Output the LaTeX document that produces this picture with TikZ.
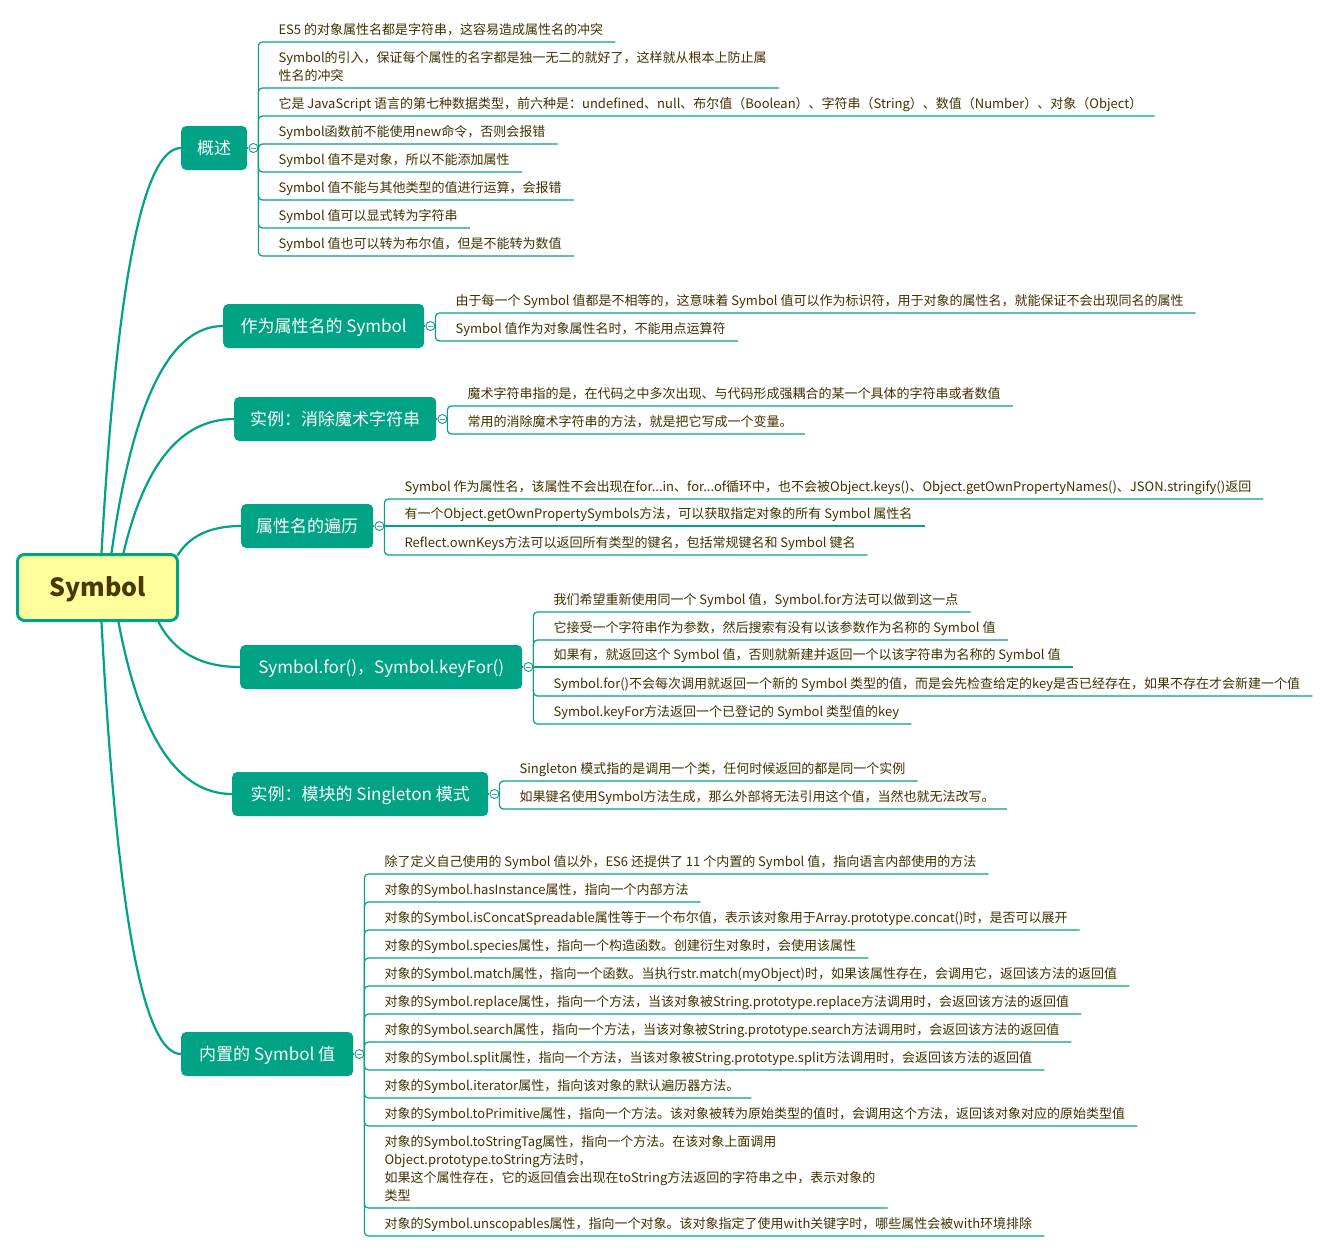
\documentclass[tikz,border=0pt]{standalone}
\usepackage{fontspec}
\setmainfont{Noto Sans CJK SC}
\usetikzlibrary{calc,backgrounds}
\definecolor{teal2}{HTML}{00A386}
\definecolor{rootfill}{HTML}{FFFF9C}
\definecolor{leaftext}{HTML}{3F3200}
\definecolor{roottext}{HTML}{4A3800}
\definecolor{minuscol}{HTML}{7A86C8}
\tikzset{
 branch/.style={fill=teal2, rounded corners=5pt, text=white, font=\fontsize{17}{20}\selectfont, text height=14pt, text depth=2pt, minimum height=44pt, inner xsep=0pt, anchor=west},
 rootnode/.style={draw=teal2, line width=3pt, fill=rootfill, rounded corners=7pt, minimum width=160pt, minimum height=66pt, font=\fontsize{25}{30}\selectfont\bfseries, text height=18pt, text depth=0pt, text=roottext},
 collapse/.style={circle, draw=teal2, line width=0.9pt, fill=white, minimum size=9pt, inner sep=0pt, path picture={\draw[minuscol, line width=0.9pt] ([xshift=-2.5pt]path picture bounding box.center) -- ([xshift=2.5pt]path picture bounding box.center);}},
 leaf/.style={anchor=base west, inner sep=0pt, text=leaftext, font=\fontsize{13}{18}\selectfont, align=left},
 leafline/.style={draw=teal2, line width=1.2pt, rounded corners=4pt},
 rootline/.style={draw=teal2, line width=2.2pt},
 stemline/.style={draw=teal2, line width=1.2pt},
}
% name, circle, last-line centre y, underline y, text
\newcommand\leafitem[5]{%
 \coordinate (#1a) at ([xshift=20pt]#2.east);
 \coordinate (#1b) at (0,#3+5);
 \node[leaf] (#1) at (#1a |- #1b) {#5};
 \coordinate (#1c) at ([xshift=12pt]#1.east);
 \coordinate (#1d) at (0,#4);
 \draw[leafline] (#2.east) |- (#1c |- #1d);
}
\newcommand\leafflat[4]{%
 \coordinate (#1a) at ([xshift=20pt]#2.east);
 \coordinate (#1b) at (0,#3+5);
 \node[leaf] (#1) at (#1a |- #1b) {#4};
 \coordinate (#1c) at ([xshift=12pt]#1.east);
 \draw[leafline] (#2.east) -- (#1c |- #2.east);
}
\newcommand\rootlink[2]{%
 \draw[rootline] let \p1=(#1), \p2=(#2) in (\p1) .. controls (\x1+0.19*\x2-0.19*\x1, \y1+0.667*\y2-0.667*\y1) and (\x2-0.48*\x2+0.48*\x1, \y2) .. (\p2);
}
\begin{document}
\begin{tikzpicture}[x=1pt,y=-1pt]
\useasboundingbox (0,0) rectangle (1329,1251);

\node[rootnode] (root) at (97.5,587.5) {Symbol};

% branches
\node[branch, minimum width=66pt] (b1) at (181,148) {概述};
\node[branch, minimum width=201pt] (b2) at (223,326) {作为属性名的 Symbol};
\node[branch, minimum width=202pt] (b3) at (234,419) {实例：消除魔术字符串};
\node[branch, minimum width=132pt] (b4) at (241,526) {属性名的遍历};
\node[branch, minimum width=282pt] (b5) at (240,667) {Symbol.for()，Symbol.keyFor()};
\node[branch, minimum width=256pt] (b6) at (232,794) {实例：模块的 Singleton 模式};
\node[branch, minimum width=172pt] (b7) at (181,1054) {内置的 Symbol 值};

% collapse circles
\foreach \i in {1,...,7}{
 \node[collapse] (c\i) at ([xshift=6pt]b\i.east) {};
 \draw[stemline] (b\i.east) -- (c\i.west);
}

% group 1
\leafitem{La}{c1}{29}{42}{ES5 的对象属性名都是字符串，这容易造成属性名的冲突}
\leafitem{Lb}{c1}{75}{88}{Symbol的引入，保证每个属性的名字都是独一无二的就好了，这样就从根本上防止属\\性名的冲突}
\leafitem{Lc}{c1}{103}{116}{它是 JavaScript 语言的第七种数据类型，前六种是：undefined、null、布尔值（Boolean）、字符串（String）、数值（Number）、对象（Object）}
\leafitem{Ld}{c1}{131}{144}{Symbol函数前不能使用new命令，否则会报错}
\leafitem{Le}{c1}{159}{172}{Symbol 值不是对象，所以不能添加属性}
\leafitem{Lf}{c1}{187}{200}{Symbol 值不能与其他类型的值进行运算，会报错}
\leafitem{Lg}{c1}{215}{228}{Symbol 值可以显式转为字符串}
\leafitem{Lh}{c1}{243}{256}{Symbol 值也可以转为布尔值，但是不能转为数值}

% group 2
\leafitem{Ma}{c2}{300}{313}{由于每一个 Symbol 值都是不相等的，这意味着 Symbol 值可以作为标识符，用于对象的属性名，就能保证不会出现同名的属性}
\leafitem{Mb}{c2}{328}{341}{Symbol 值作为对象属性名时，不能用点运算符}

% group 3
\leafitem{Na}{c3}{393}{406}{魔术字符串指的是，在代码之中多次出现、与代码形成强耦合的某一个具体的字符串或者数值}
\leafitem{Nb}{c3}{421}{434}{常用的消除魔术字符串的方法，就是把它写成一个变量。}

% group 4
\leafitem{Oa}{c4}{486}{499}{Symbol 作为属性名，该属性不会出现在for...in、for...of循环中，也不会被Object.keys()、Object.getOwnPropertyNames()、JSON.stringify()返回}
\leafflat{Ob}{c4}{513}{有一个Object.getOwnPropertySymbols方法，可以获取指定对象的所有 Symbol 属性名}
\leafitem{Oc}{c4}{542}{555}{Reflect.ownKeys方法可以返回所有类型的键名，包括常规键名和 Symbol 键名}

% group 5
\leafitem{Pa}{c5}{599}{612}{我们希望重新使用同一个 Symbol 值，Symbol.for方法可以做到这一点}
\leafitem{Pb}{c5}{627}{640}{它接受一个字符串作为参数，然后搜索有没有以该参数作为名称的 Symbol 值}
\leafflat{Pc}{c5}{654}{如果有，就返回这个 Symbol 值，否则就新建并返回一个以该字符串为名称的 Symbol 值}
\leafitem{Pd}{c5}{683}{696}{Symbol.for()不会每次调用就返回一个新的 Symbol 类型的值，而是会先检查给定的key是否已经存在，如果不存在才会新建一个值}
\leafitem{Pe}{c5}{711}{724}{Symbol.keyFor方法返回一个已登记的 Symbol 类型值的key}

% group 6
\leafitem{Qa}{c6}{768}{781}{Singleton 模式指的是调用一个类，任何时候返回的都是同一个实例}
\leafitem{Qb}{c6}{796}{809}{如果键名使用Symbol方法生成，那么外部将无法引用这个值，当然也就无法改写。}

% group 7
\leafitem{Ra}{c7}{861}{874}{除了定义自己使用的 Symbol 值以外，ES6 还提供了 11 个内置的 Symbol 值，指向语言内部使用的方法}
\leafitem{Rb}{c7}{889}{902}{对象的Symbol.hasInstance属性，指向一个内部方法}
\leafitem{Rc}{c7}{917}{930}{对象的Symbol.isConcatSpreadable属性等于一个布尔值，表示该对象用于Array.prototype.concat()时，是否可以展开}
\leafitem{Rd}{c7}{945}{958}{对象的Symbol.species属性，指向一个构造函数。创建衍生对象时，会使用该属性}
\leafitem{Re}{c7}{973}{986}{对象的Symbol.match属性，指向一个函数。当执行str.match(myObject)时，如果该属性存在，会调用它，返回该方法的返回值}
\leafitem{Rf}{c7}{1001}{1014}{对象的Symbol.replace属性，指向一个方法，当该对象被String.prototype.replace方法调用时，会返回该方法的返回值}
\leafitem{Rg}{c7}{1029}{1042}{对象的Symbol.search属性，指向一个方法，当该对象被String.prototype.search方法调用时，会返回该方法的返回值}
\leafitem{Rh}{c7}{1057}{1070}{对象的Symbol.split属性，指向一个方法，当该对象被String.prototype.split方法调用时，会返回该方法的返回值}
\leafitem{Ri}{c7}{1085}{1098}{对象的Symbol.iterator属性，指向该对象的默认遍历器方法。}
\leafitem{Rj}{c7}{1113}{1126}{对象的Symbol.toPrimitive属性，指向一个方法。该对象被转为原始类型的值时，会调用这个方法，返回该对象对应的原始类型值}
\leafitem{Rk}{c7}{1195}{1208}{对象的Symbol.toStringTag属性，指向一个方法。在该对象上面调用\\Object.prototype.toString方法时，\\如果这个属性存在，它的返回值会出现在toString方法返回的字符串之中，表示对象的\\类型}
\leafitem{Rl}{c7}{1223}{1236}{对象的Symbol.unscopables属性，指向一个对象。该对象指定了使用with关键字时，哪些属性会被with环境排除}

% root connectors
\coordinate (s1) at ([xshift=85.5pt]root.north west);
\coordinate (s2) at ([xshift=95.5pt]root.north west);
\coordinate (s3) at ([xshift=107.5pt]root.north west);
\coordinate (s4) at ([xshift=-1.5pt,yshift=-2.5pt]root.north east);
\coordinate (s5) at ([xshift=142.5pt]root.south west);
\coordinate (s6) at ([xshift=102.5pt]root.south west);
\coordinate (s7) at ([xshift=85.5pt]root.south west);
\begin{scope}[on background layer]
\fill[white] (0,0) rectangle (1329,1251);
\rootlink{s1}{b1.west}
\rootlink{s2}{b2.west}
\rootlink{s3}{b3.west}
\rootlink{s4}{b4.west}
\rootlink{s5}{b5.west}
\rootlink{s6}{b6.west}
\rootlink{s7}{b7.west}
\end{scope}
\end{tikzpicture}
\end{document}
